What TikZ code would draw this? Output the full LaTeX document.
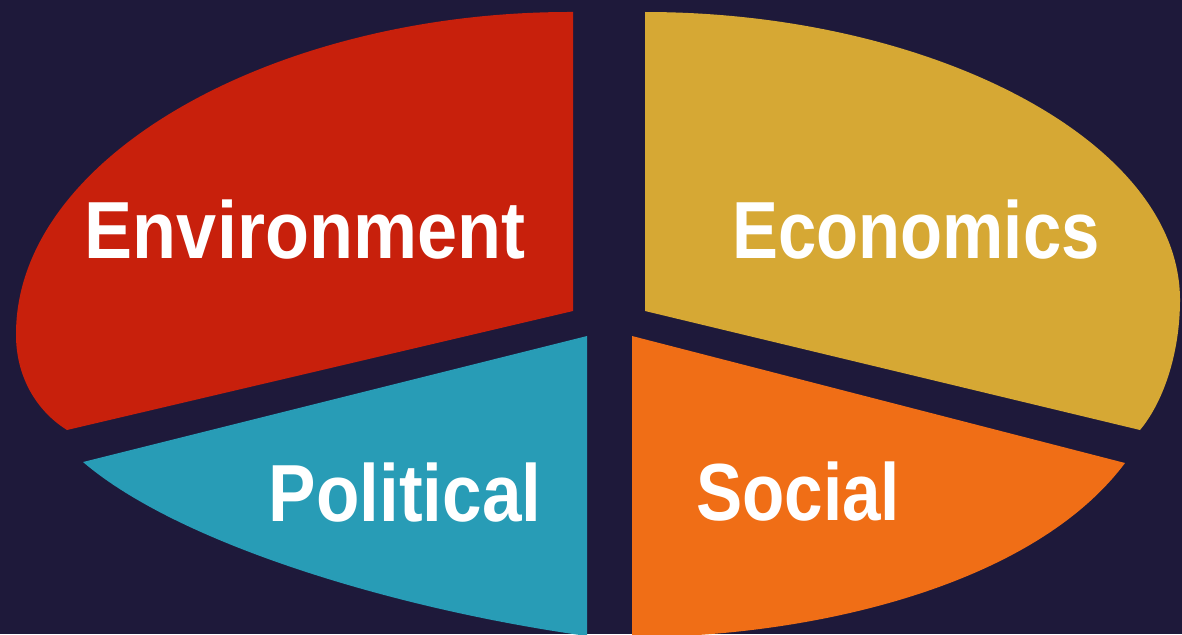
\documentclass[tikz,border=0pt]{standalone}
\usepackage{fontspec}
\setmainfont{Liberation Sans}
\definecolor{bgc}{RGB}{30,25,58}
\definecolor{envc}{RGB}{200,32,12}
\definecolor{ecoc}{RGB}{214,168,52}
\definecolor{polc}{RGB}{40,156,182}
\definecolor{socc}{RGB}{240,110,22}
\begin{document}
\begin{tikzpicture}[x=1pt,y=-1pt,
  lbl/.style={text=white,inner sep=0pt,anchor=base,font=\bfseries\fontsize{81}{81}\selectfont}]
\useasboundingbox (0,0) rectangle (1182,634);
\clip (0,0) rectangle (1182,634);
\fill[bgc] (0,0) rectangle (1182,634);
% Environment (red)
\fill[envc] (573,12) .. controls (278,11) and (15,155) .. (16,335)
  .. controls (16,375) and (35,410) .. (67,430) -- (573,311) -- cycle;
% Economics (yellow)
\fill[ecoc] (645,12) .. controls (929,12) and (1180,140) .. (1180,300)
  .. controls (1180,350) and (1165,400) .. (1140,430) -- (645,311) -- cycle;
% Political (blue)
\fill[polc] (83,462) -- (587,336) -- (587,640) -- (587,636)
  .. controls (400,610) and (180,545) .. (83,462) -- cycle;
% Social (orange)
\fill[socc] (632,336) -- (1125,463)
  .. controls (1030,590) and (800,638) .. (632,637) -- cycle;
\node[lbl] (env) at (305,258) {\scalebox{0.889}[1]{Environment}};
\node[lbl] (eco) at (916,258) {\scalebox{0.85}[1]{Economics}};
\node[lbl] (pol) at (405,521) {\scalebox{0.878}[1]{Political}};
\node[lbl] (soc) at (798,520) {\scalebox{0.855}[1]{Social}};
\end{tikzpicture}
\end{document}
